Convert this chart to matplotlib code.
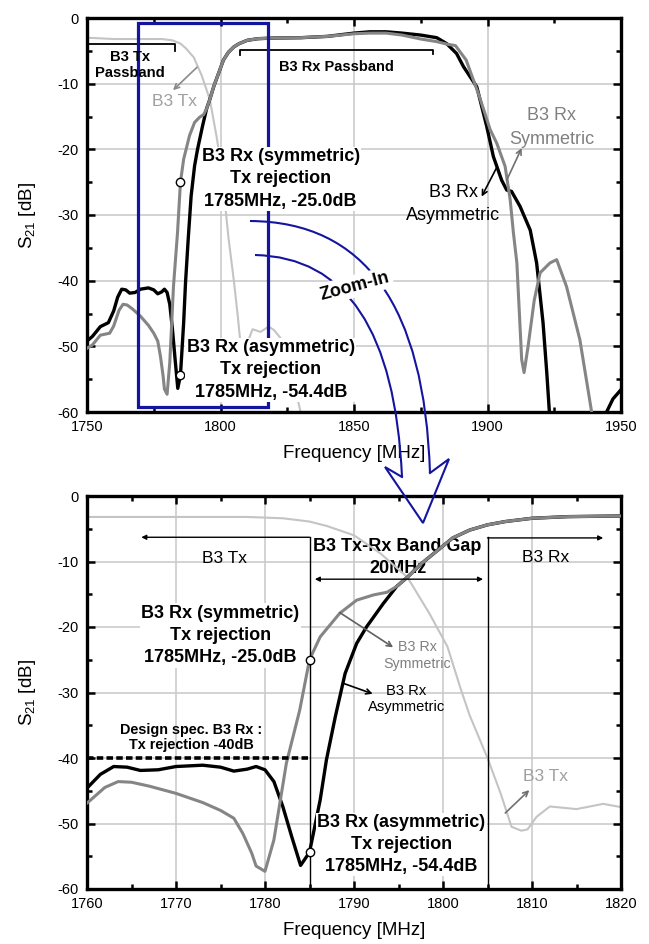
import numpy as np
import matplotlib.pyplot as plt
from matplotlib.patches import Rectangle, PathPatch
from matplotlib.path import Path
from matplotlib.ticker import MultipleLocator

plt.rcParams['font.family'] = ['Liberation Sans', 'DejaVu Sans']
plt.rcParams['axes.unicode_minus'] = False
plt.rcParams['mathtext.fontset'] = 'custom'
plt.rcParams['mathtext.rm'] = 'Liberation Sans'
plt.rcParams['mathtext.default'] = 'regular'

# B3 Tx filter (light gray)
freq_tx = [1750, 1755, 1760, 1770, 1778, 1782, 1785, 1787, 1790, 1793, 1796,
           1798.5, 1800.5, 1802, 1803, 1805, 1806.5, 1807.7, 1808.8, 1809.5,
           1810.5, 1812, 1815, 1818, 1820, 1823, 1826, 1830, 1835, 1845, 1950]
s21_tx = [-3.0, -3.1, -3.2, -3.2, -3.2, -3.4, -3.9, -4.6, -6.0, -8.8, -12.4,
          -18.0, -23.0, -29.5, -33.5, -40.0, -45.5, -50.5, -51.1, -50.9,
          -49.0, -47.4, -47.8, -47.0, -47.5, -49.0, -53.0, -60.0, -68.0, -80.0, -80.0]

# B3 Rx symmetric (gray)
freq_sym = [1750, 1752, 1755, 1758.5, 1760, 1762, 1763.5, 1765, 1767, 1770,
            1773, 1775, 1776.5, 1777.5, 1778.5, 1779, 1780, 1781, 1782.4, 1783.9,
            1785, 1786.2, 1788.4, 1790.3, 1792.2, 1793.7, 1794.8, 1796, 1797.5,
            1799.3, 1801.1, 1803, 1805, 1807, 1810, 1814, 1820, 1830, 1840,
            1850, 1856, 1862, 1868, 1875, 1881, 1885, 1888, 1892, 1897,
            1901, 1903.5, 1906.6, 1908.5, 1909.7, 1911, 1912.8, 1913.7, 1915.2, 1917.5,
            1919.7, 1923.4, 1925.9, 1929.6, 1934.6, 1939, 1945, 1950]
s21_sym = [-50.3, -49.8, -48.3, -48.0, -46.9, -44.5, -43.6, -43.7, -44.3, -45.4,
           -46.8, -48.0, -49.2, -51.5, -54.5, -56.5, -57.3, -52.5, -40.8, -32.7,
           -25.0, -21.5, -17.9, -15.9, -15.1, -14.7, -13.8, -12.4, -10.4,
           -8.4, -6.4, -5.2, -4.4, -3.9, -3.4, -3.15, -3.05, -3.0, -2.8,
           -2.4, -2.3, -2.3, -2.6, -3.2, -3.6, -4.0, -4.2, -6.4, -12.0,
           -17.0, -19.1, -22.6, -27.7, -32.7, -37.3, -52.0, -54.0, -50.0, -43.0,
           -38.8, -37.3, -36.8, -40.9, -49.0, -60.0, -70.0, -75.0]

# B3 Rx asymmetric (black)
freq_asym = [1750, 1752, 1755, 1758, 1760, 1761.5, 1763, 1764.5, 1766, 1768,
             1770, 1773, 1775, 1776.5, 1778, 1779, 1780, 1781, 1782, 1783,
             1784, 1785, 1786.2, 1786.9, 1787.9, 1789, 1790.3, 1791.4, 1793.3, 1794.8,
             1796, 1797.5, 1799.3, 1801.1, 1803, 1805, 1807, 1810, 1814, 1820,
             1830, 1840, 1850, 1856, 1862, 1868, 1875, 1881, 1884.7, 1888.4,
             1891, 1896, 1899.7, 1902.2, 1905.3, 1907.2, 1909, 1912.2, 1916, 1918.4,
             1920.8, 1922.2, 1923.5, 1927, 1935, 1941, 1944.6, 1947, 1950]
s21_asym = [-49.2, -48.5, -47.0, -46.4, -44.6, -42.5, -41.3, -41.4, -41.9, -41.8,
            -41.3, -41.1, -41.4, -42.0, -41.7, -41.3, -41.8, -43.6, -47.4, -52.0,
            -56.4, -54.4, -46.4, -40.3, -33.7, -27.1, -22.5, -20.0, -16.4, -13.8,
            -12.4, -10.4, -8.4, -6.4, -5.2, -4.4, -3.9, -3.4, -3.15, -3.05,
            -3.0, -2.8, -2.3, -2.1, -2.1, -2.3, -2.6, -3.0, -3.9, -5.4,
            -7.4, -10.5, -16.5, -21.1, -24.7, -26.2, -26.4, -28.7, -32.3, -37.3,
            -46.4, -54.0, -62.0, -72.0, -78.0, -68.0, -60.0, -58.0, -56.6]

rej_freq = 1785
rej_sym = -25.0
rej_asym = -54.4
spec_level = -40

BLUE = '#14149e'
C_TX = '#c4c4c4'
C_SYM = '#858585'

fig = plt.figure(figsize=(6.49, 9.44), dpi=100)
ax1 = fig.add_axes([87/649, 1 - 412/944, 534/649, 394/944])
ax2 = fig.add_axes([87/649, 1 - 889/944, 534/649, 393/944])

for ax in (ax1, ax2):
    ax.plot(freq_tx, s21_tx, color=C_TX, lw=1.5, zorder=2)
    ax.plot(freq_asym, s21_asym, color='k', lw=2.4, zorder=3)
    ax.plot(freq_sym, s21_sym, color=C_SYM, lw=2.2, zorder=3.5)
    ax.plot([rej_freq, rej_freq], [rej_sym, rej_asym], 'o', ms=6, mfc='white',
            mec='k', mew=1, zorder=8)
    ax.set_ylim(-60, 0)
    ax.yaxis.set_major_locator(MultipleLocator(10))
    ax.yaxis.set_minor_locator(MultipleLocator(5))
    ax.grid(True, which='major', color='#c8c8c8', lw=1.1)
    ax.set_axisbelow(True)
    for s in ax.spines.values():
        s.set_linewidth(2.4)
    ax.tick_params(which='both', direction='in', top=True, right=True,
                   width=1.8, labelsize=10.5, pad=6)
    ax.tick_params(which='major', length=6)
    ax.tick_params(which='minor', length=3.5)
    ax.set_xlabel('Frequency [MHz]', fontsize=13.5, labelpad=8)
    ax.set_ylabel('S$_{21}$ [dB]', fontsize=13.5, labelpad=14)

box = dict(fc='white', ec='none', pad=1)

# ---- top: full band
ax1.set_xlim(1750, 1950)
ax1.xaxis.set_major_locator(MultipleLocator(50))
ax1.xaxis.set_minor_locator(MultipleLocator(25))

ax1.plot([1750, 1783, 1783], [-4.0, -4.0, -5.0], color='k', lw=1.3, zorder=5)
ax1.plot([1807.3, 1807.3, 1879.7, 1879.7], [-5.6, -4.9, -4.9, -5.5], color='k', lw=1.3, zorder=5)
ax1.text(1766.1, -7.15, 'B3 Tx\nPassband', ha='center', va='center', fontsize=10.6,
         fontweight='bold', linespacing=1.15, zorder=9)
ax1.text(1843.5, -7.45, 'B3 Rx Passband', ha='center', va='center', fontsize=10.5,
         fontweight='bold', zorder=9)
ax1.text(1782.8, -12.7, 'B3 Tx', ha='center', va='center', fontsize=12.5,
         color='#a0a0a0', zorder=9)
ax1.annotate('', xy=(1782.2, -11.0), xytext=(1791.2, -7.5),
             arrowprops=dict(arrowstyle='->', color='#8a8a8a', lw=1.2,
                             shrinkA=0, shrinkB=0, mutation_scale=9), zorder=9)
ax1.add_patch(Rectangle((1769.2, -59.2), 48.5, 58.5, fill=False, ec=BLUE, lw=2.3, zorder=6))
ax1.text(1822.5, -24.5, 'B3 Rx (symmetric)\nTx rejection\n1785MHz, -25.0dB',
         ha='center', va='center', fontsize=13, fontweight='bold', linespacing=1.4,
         bbox=box, zorder=9)
ax1.text(1818.8, -53.6, 'B3 Rx (asymmetric)\nTx rejection\n1785MHz, -54.4dB',
         ha='center', va='center', fontsize=13, fontweight='bold', linespacing=1.4,
         bbox=box, zorder=9)
ax1.text(1924.0, -16.7, 'B3 Rx\nSymmetric', ha='center', va='center', fontsize=13,
         color='#808080', linespacing=1.5, zorder=9)
ax1.annotate('', xy=(1912.8, -19.8), xytext=(1907.2, -24.7),
             arrowprops=dict(arrowstyle='->', color='#707070', lw=1.2,
                             shrinkA=0, shrinkB=0, mutation_scale=9), zorder=9)
ax1.text(1887.1, -28.3, 'B3 Rx\nAsymmetric', ha='center', va='center', fontsize=13,
         color='k', linespacing=1.5, zorder=9)
ax1.annotate('', xy=(1897.8, -27.2), xytext=(1903.4, -22.8),
             arrowprops=dict(arrowstyle='->', color='k', lw=1.2,
                             shrinkA=0, shrinkB=0, mutation_scale=9), zorder=9)

# ---- bottom: zoom on the Tx-Rx gap
ax2.set_xlim(1760, 1820)
ax2.xaxis.set_major_locator(MultipleLocator(10))
ax2.xaxis.set_minor_locator(MultipleLocator(5))

for xe in (1785, 1805):
    ax2.plot([xe, xe], [-60, -6.3], color='k', lw=1.0, zorder=5)
thin = dict(arrowstyle='-|>', color='k', lw=1.0, shrinkA=0, shrinkB=0, mutation_scale=7)
ax2.annotate('', xy=(1766.1, -6.3), xytext=(1785, -6.3), arrowprops=thin, zorder=5)
ax2.annotate('', xy=(1818, -6.4), xytext=(1805, -6.4), arrowprops=thin, zorder=5)
ax2.annotate('', xy=(1785.6, -12.7), xytext=(1804.5, -12.7),
             arrowprops=dict(thin, arrowstyle='<|-|>'), zorder=5)
ax2.text(1775.5, -9.5, 'B3 Tx', ha='center', va='center', fontsize=12.5, zorder=9)
ax2.text(1811.5, -9.4, 'B3 Rx', ha='center', va='center', fontsize=12.5, zorder=9)
ax2.text(1794.9, -9.4, 'B3 Tx-Rx Band Gap\n20MHz', ha='center', va='center',
         fontsize=13, fontweight='bold', linespacing=1.38, zorder=1.5)
ax2.text(1775.0, -21.3, 'B3 Rx (symmetric)\nTx rejection\n1785MHz, -25.0dB',
         ha='center', va='center', fontsize=13, fontweight='bold', linespacing=1.4,
         bbox=box, zorder=7)
ax2.text(1797.1, -24.3, 'B3 Rx\nSymmetric', ha='center', va='center', fontsize=10.3,
         color='#808080', linespacing=1.3, zorder=9)
ax2.annotate('', xy=(1794.4, -23.1), xytext=(1788.4, -17.8),
             arrowprops=dict(arrowstyle='->', color='#606060', lw=1.2,
                             shrinkA=0, shrinkB=0, mutation_scale=9), zorder=9)
ax2.text(1795.9, -31.0, 'B3 Rx\nAsymmetric', ha='center', va='center', fontsize=10.6,
         color='k', linespacing=1.25, zorder=9)
ax2.annotate('', xy=(1792.1, -30.2), xytext=(1788.8, -28.6),
             arrowprops=dict(arrowstyle='->', color='k', lw=1.2,
                             shrinkA=0, shrinkB=0, mutation_scale=9), zorder=9)
ax2.plot([1760, rej_freq], [spec_level, spec_level], color='k', lw=2.6,
         ls=(0, (1.8, 0.9)), zorder=6)
ax2.text(1771.7, -36.9, 'Design spec. B3 Rx :\nTx rejection -40dB', ha='center',
         va='center', fontsize=10.4, fontweight='bold', linespacing=1.13, zorder=9)
ax2.text(1795.3, -53.2, 'B3 Rx (asymmetric)\nTx rejection\n1785MHz, -54.4dB',
         ha='center', va='center', fontsize=13, fontweight='bold', linespacing=1.35,
         bbox=box, zorder=7)
ax2.text(1811.5, -42.9, 'B3 Tx', ha='center', va='center', fontsize=12.5,
         color='#a0a0a0', zorder=9)
ax2.annotate('', xy=(1809.7, -44.9), xytext=(1807.0, -48.4),
             arrowprops=dict(arrowstyle='->', color='#707070', lw=1.2,
                             shrinkA=0, shrinkB=0, mutation_scale=9), zorder=9)

# ---- zoom-in arrow drawn over both panels (figure pixels)
ov = fig.add_axes([0, 0, 1, 1], zorder=20)
ov.set_xlim(0, 649)
ov.set_ylim(944, 0)
ov.axis('off')
ov.patch.set_alpha(0)
for p0, c, p2 in [((250, 221), (422, 222), (430, 473)),
                  ((255, 255), (392, 258), (402, 477))]:
    ov.add_patch(PathPatch(Path([p0, c, p2], [Path.MOVETO, Path.CURVE3, Path.CURVE3]),
                           fc='none', ec=BLUE, lw=1.5))
head = np.array([(402, 477), (385, 467), (423, 523), (449, 459), (430, 473)])
ov.plot(head[:, 0], head[:, 1], color=BLUE, lw=1.5, solid_joinstyle='miter')
ov.text(355, 286, 'Zoom-In', rotation=15, ha='center', va='center', fontsize=13,
        fontweight='bold', bbox=dict(fc='white', ec='none', pad=2))

fig.savefig('out.png', dpi=100)
